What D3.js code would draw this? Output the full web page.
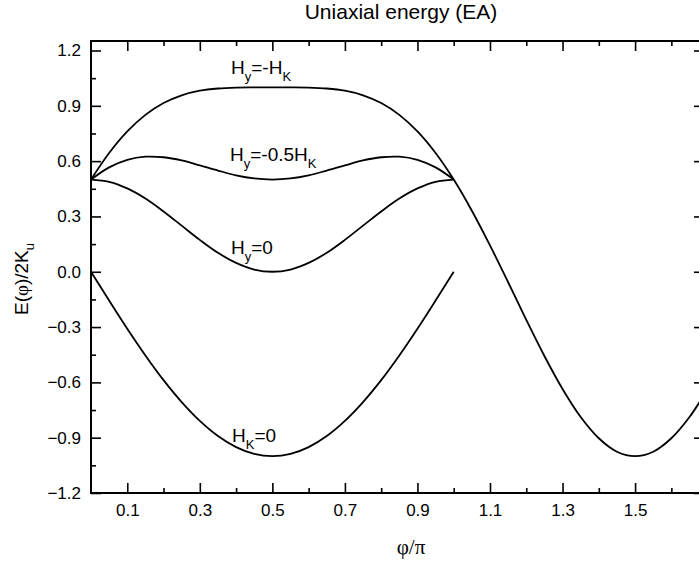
<!DOCTYPE html>
<html>
<head>
<meta charset="utf-8">
<script src="https://cdn.jsdelivr.net/npm/d3@7"></script>
<style>
  body { margin: 0; background: #fff; }
  svg { display: block; font-family: "Liberation Sans", Arial, sans-serif; }
</style>
</head>
<body>
<div id="chart"></div>
<script>
// phi/pi sample positions
const phiHalf = [0, 0.05, 0.1, 0.15, 0.2, 0.25, 0.3, 0.35, 0.4, 0.45, 0.5,
                 0.55, 0.6, 0.65, 0.7, 0.75, 0.8, 0.85, 0.9, 0.95, 1.0];
const phiLong = [0, 0.05, 0.1, 0.15, 0.2, 0.25, 0.3, 0.35, 0.4, 0.45, 0.5,
                 0.55, 0.6, 0.65, 0.7, 0.75, 0.8, 0.85, 0.9, 0.95, 1.0,
                 1.05, 1.1, 1.15, 1.2, 1.25, 1.3, 1.35, 1.4, 1.45, 1.5,
                 1.55, 1.6, 1.65, 1.7];

// E(phi)/2Ku for each case
const eHyMinusHk = [0.500, 0.644, 0.761, 0.851, 0.915, 0.957, 0.982, 0.994, 0.999, 1.000, 1.000,
                    1.000, 0.999, 0.994, 0.982, 0.957, 0.915, 0.851, 0.761, 0.644, 0.500,
                    0.331, 0.143, -0.057, -0.261, -0.457, -0.636, -0.788, -0.903, -0.976, -1.000,
                    -0.976, -0.903, -0.788, -0.636];
const eHyMinusHalfHk = [0.500, 0.566, 0.607, 0.624, 0.621, 0.604, 0.577, 0.549, 0.523, 0.506, 0.500,
                        0.506, 0.523, 0.549, 0.577, 0.604, 0.621, 0.624, 0.607, 0.566, 0.500];
const eHyZero = [0.500, 0.488, 0.452, 0.397, 0.327, 0.250, 0.173, 0.103, 0.048, 0.012, 0.000,
                 0.012, 0.048, 0.103, 0.173, 0.250, 0.327, 0.397, 0.452, 0.488, 0.500];
const eHkZero = [0.000, -0.156, -0.309, -0.454, -0.588, -0.707, -0.809, -0.891, -0.951, -0.988, -1.000,
                 -0.988, -0.951, -0.891, -0.809, -0.707, -0.588, -0.454, -0.309, -0.156, 0.000];

const xMajor = [0.1, 0.3, 0.5, 0.7, 0.9, 1.1, 1.3, 1.5];
const xMinor = [0.2, 0.4, 0.6, 0.8, 1.0, 1.2, 1.4, 1.6];
const yMajor = [-1.2, -0.9, -0.6, -0.3, 0.0, 0.3, 0.6, 0.9, 1.2];
const yMinor = [-1.05, -0.75, -0.45, -0.15, 0.15, 0.45, 0.75, 1.05];

const width = 699, height = 562;
const margin = {top: 41, right: -5, bottom: 69, left: 91};

const svg = d3.select("#chart").append("svg")
    .attr("width", width)
    .attr("height", height);

const x = d3.scaleLinear()
    .domain([0, 1.69])
    .range([margin.left, width - margin.right]);

const y = d3.scaleLinear()
    .domain([-1.2, 1.2516])
    .range([height - margin.bottom, margin.top]);

svg.append("clipPath").attr("id", "plot-clip")
    .append("rect")
    .attr("x", x.range()[0]).attr("y", y.range()[1])
    .attr("width", x.range()[1] - x.range()[0])
    .attr("height", y.range()[0] - y.range()[1]);

function styleAxis(g) {
    g.select(".domain").remove();
    g.selectAll(".tick line").attr("stroke", "#000").attr("stroke-width", 1.6);
    g.selectAll(".tick text").attr("fill", "#000").style("font-size", "17px");
}

const fmt = d3.format(".1f");
const yBase = y.range()[0], yTop = y.range()[1];
const xLeft = x.range()[0], xRight = x.range()[1];

// bottom
svg.append("g").attr("transform", `translate(0,${yBase})`)
    .call(d3.axisBottom(x).tickValues(xMajor).tickSize(-10).tickPadding(11).tickFormat(fmt))
    .call(styleAxis);
svg.append("g").attr("transform", `translate(0,${yBase})`)
    .call(d3.axisBottom(x).tickValues(xMinor).tickSize(-5).tickFormat(""))
    .call(styleAxis);
// top
svg.append("g").attr("transform", `translate(0,${yTop})`)
    .call(d3.axisTop(x).tickValues(xMajor).tickSize(-10).tickFormat(""))
    .call(styleAxis);
svg.append("g").attr("transform", `translate(0,${yTop})`)
    .call(d3.axisTop(x).tickValues(xMinor).tickSize(-5).tickFormat(""))
    .call(styleAxis);
// left
svg.append("g").attr("transform", `translate(${xLeft},0)`)
    .call(d3.axisLeft(y).tickValues(yMajor).tickSize(-10).tickPadding(10).tickFormat(fmt))
    .call(styleAxis);
svg.append("g").attr("transform", `translate(${xLeft},0)`)
    .call(d3.axisLeft(y).tickValues(yMinor).tickSize(-5).tickFormat(""))
    .call(styleAxis);
// right
svg.append("g").attr("transform", `translate(${xRight},0)`)
    .call(d3.axisRight(y).tickValues(yMajor).tickSize(-10).tickFormat(""))
    .call(styleAxis);
svg.append("g").attr("transform", `translate(${xRight},0)`)
    .call(d3.axisRight(y).tickValues(yMinor).tickSize(-5).tickFormat(""))
    .call(styleAxis);

// frame
svg.append("rect")
    .attr("x", xLeft).attr("y", yTop)
    .attr("width", xRight - xLeft).attr("height", yBase - yTop)
    .attr("fill", "none").attr("stroke", "#000").attr("stroke-width", 2);

// curves
const line = d3.line()
    .x(d => x(d[0]))
    .y(d => y(d[1]))
    .curve(d3.curveCatmullRom);

const series = [
    d3.zip(phiLong, eHyMinusHk),
    d3.zip(phiHalf, eHyMinusHalfHk),
    d3.zip(phiHalf, eHyZero),
    d3.zip(phiHalf, eHkZero)
];

svg.append("g").attr("clip-path", "url(#plot-clip)")
    .selectAll("path")
    .data(series)
    .enter()
    .append("path")
    .attr("d", line)
    .attr("fill", "none")
    .attr("stroke", "#000")
    .attr("stroke-width", 1.8);

// curve labels: [main, sub, main, sub]
const labels = [
    {x: 231, y: 74, parts: ["H", "y", "=-H", "K"]},
    {x: 230, y: 161, parts: ["H", "y", "=-0.5H", "K"]},
    {x: 231, y: 254, parts: ["H", "y", "=0"]},
    {x: 232, y: 442, parts: ["H", "K", "=0"]}
];

labels.forEach(l => {
    const t = svg.append("text")
        .attr("x", l.x).attr("y", l.y)
        .style("font-size", "19px");
    l.parts.forEach((p, i) => {
        const sub = i % 2 === 1;
        t.append("tspan")
            .attr("dy", sub ? 7 : (i > 0 ? -7 : 0))
            .style("font-size", sub ? "13px" : "19px")
            .text(p);
    });
});

// title
svg.append("text")
    .attr("x", 401).attr("y", 18.5)
    .attr("text-anchor", "middle")
    .style("font-size", "21px")
    .text("Uniaxial energy (EA)");

// x label
svg.append("text")
    .attr("x", 411).attr("y", 554)
    .attr("text-anchor", "middle")
    .style("font-family", "'Liberation Serif', 'DejaVu Serif', serif")
    .style("font-size", "21px")
    .text("φ/π");

// y label
const yl = svg.append("text")
    .attr("transform", "translate(28,279) rotate(-90)")
    .attr("text-anchor", "middle")
    .style("font-size", "19px");
yl.append("tspan").text("E(");
yl.append("tspan").style("font-family", "'Liberation Serif', serif").text("φ");
yl.append("tspan").text(")/2K");
yl.append("tspan").attr("dy", 6).style("font-size", "13px").text("u");
</script>
</body>
</html>
